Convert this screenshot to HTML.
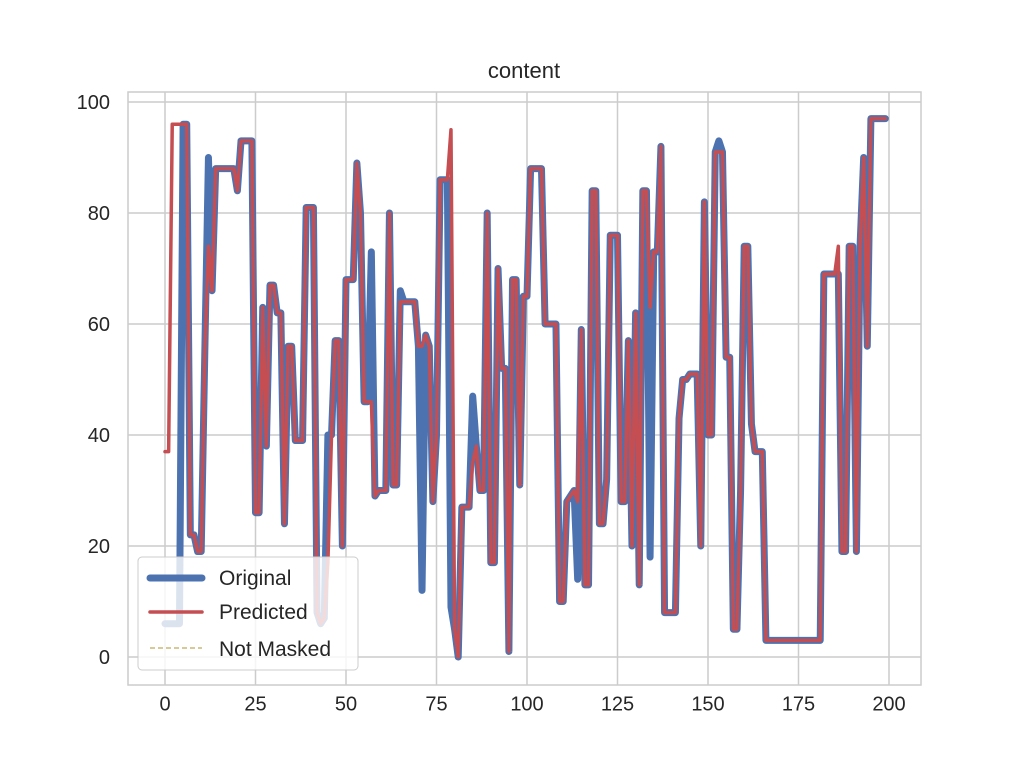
<!DOCTYPE html>
<html><head><meta charset="utf-8"><style>
body{margin:0;background:#fff;font-family:"Liberation Sans","DejaVu Sans",sans-serif}
</style></head><body>
<svg id="chart" width="1024" height="768" xmlns="http://www.w3.org/2000/svg" font-family="Liberation Sans, DejaVu Sans, sans-serif">
<rect width="1024" height="768" fill="#fff"/>
<g id="grid"></g>
<g id="series"></g>
<rect x="128" y="92" width="793" height="593" fill="none" stroke="#cccccc" stroke-width="1.5"/>
<g id="ticks" font-size="20" fill="#262626"></g>
<text x="524" y="78" text-anchor="middle" font-size="22" fill="#262626">content</text>
<g>
<rect x="138" y="557" width="220" height="113" rx="4" fill="#fff" fill-opacity="0.8" stroke="#cccccc"/>
<line x1="150" y1="578" x2="202" y2="578" stroke="#4c72b0" stroke-width="7" stroke-linecap="round"/>
<text x="219" y="585" font-size="21" fill="#262626">Original</text>
<line x1="150" y1="612" x2="202" y2="612" stroke="#c44e52" stroke-width="3.5" stroke-linecap="round"/>
<text x="219" y="619" font-size="21" fill="#262626">Predicted</text>
<line x1="150" y1="648" x2="202" y2="648" stroke="#ccb974" stroke-width="1.5" stroke-dasharray="5,3"/>
<text x="219" y="656" font-size="21" fill="#262626">Not Masked</text>
</g>
</svg>
<script>
const xTicks=[0,25,50,75,100,125,150,175,200];
const yTicks=[0,20,40,60,80,100];
const original=[6,6,6,6,6,96,96,22,22,19,19,55,90,66,88,88,88,88,88,88,84,93,93,93,93,26,26,63,38,67,67,62,62,24,56,56,39,39,39,81,81,81,8,6,7,40,40,57,57,20,68,68,68,89,80,46,46,73,29,30,30,30,80,31,31,66,64,64,64,64,56,12,58,56,28,40,86,86,86,9,5,0,27,27,27,47,38,30,30,80,17,17,70,52,52,1,68,68,31,65,65,88,88,88,88,60,60,60,60,10,10,28,29,30,14,59,13,13,84,84,24,24,32,76,76,76,28,28,57,20,62,13,84,84,18,73,73,92,8,8,8,8,43,50,50,51,51,51,20,82,40,40,91,93,91,54,54,5,5,30,74,74,42,37,37,37,3,3,3,3,3,3,3,3,3,3,3,3,3,3,3,3,69,69,69,69,69,19,19,74,74,19,74,90,56,97,97,97,97,97];
const predicted=[37,37,96,96,96,96,96,22,22,19,19,55,74,66,88,88,88,88,88,88,84,93,93,93,93,26,26,63,38,67,67,62,62,24,56,56,39,39,39,81,81,81,8,6,7,17,40,57,57,20,68,68,68,89,80,46,46,46,29,30,30,30,80,31,31,64,64,64,64,64,56,56,58,56,28,40,86,86,86,95,5,0,27,27,27,35,38,30,30,80,17,17,70,52,52,1,68,68,31,65,65,88,88,88,88,60,60,60,60,10,10,28,29,30,28,59,13,13,84,84,24,24,32,76,76,76,28,28,57,20,62,13,84,84,63,73,73,92,8,8,8,8,43,50,50,51,51,51,20,82,40,40,91,91,91,54,54,5,5,30,74,74,42,37,37,37,3,3,3,3,3,3,3,3,3,3,3,3,3,3,3,3,69,69,69,69,74,19,19,74,74,19,74,90,56,97,97,97,97,97];
const NS="http://www.w3.org/2000/svg";
const sx=v=>165+v*3.62, sy=v=>657-v*5.55;
const grid=document.getElementById('grid'), ticks=document.getElementById('ticks'), series=document.getElementById('series');
function mk(tag,attrs,parent){const e=document.createElementNS(NS,tag);for(const k in attrs)e.setAttribute(k,attrs[k]);parent.appendChild(e);return e;}
xTicks.forEach(t=>{
 const l=mk('line',{x1:sx(t),x2:sx(t),y1:92,y2:685,stroke:'#cccccc','stroke-width':1.5},grid);
 
 
 const tx=mk('text',{x:sx(t),y:697,'text-anchor':'middle','dominant-baseline':'hanging'},ticks);
 tx.textContent=t;
 
 
});
yTicks.forEach(t=>{
 const l=mk('line',{x1:128,x2:921,y1:sy(t),y2:sy(t),stroke:'#cccccc','stroke-width':1.5},grid);
 
 
 const tx=mk('text',{x:110,y:sy(t)+7,'text-anchor':'end'},ticks);
 tx.textContent=t;
 
 
});
function pts(a){return a.map((v,i)=>sx(i)+','+sy(v)).join(' ');}
const o=mk('polyline',{points:pts(original),fill:'none',stroke:'#4c72b0','stroke-width':7,'stroke-linejoin':'round','stroke-linecap':'round'},series);


const p=mk('polyline',{points:pts(predicted),fill:'none',stroke:'#c44e52','stroke-width':3.5,'stroke-linejoin':'round','stroke-linecap':'round'},series);


</script>
</body></html>
